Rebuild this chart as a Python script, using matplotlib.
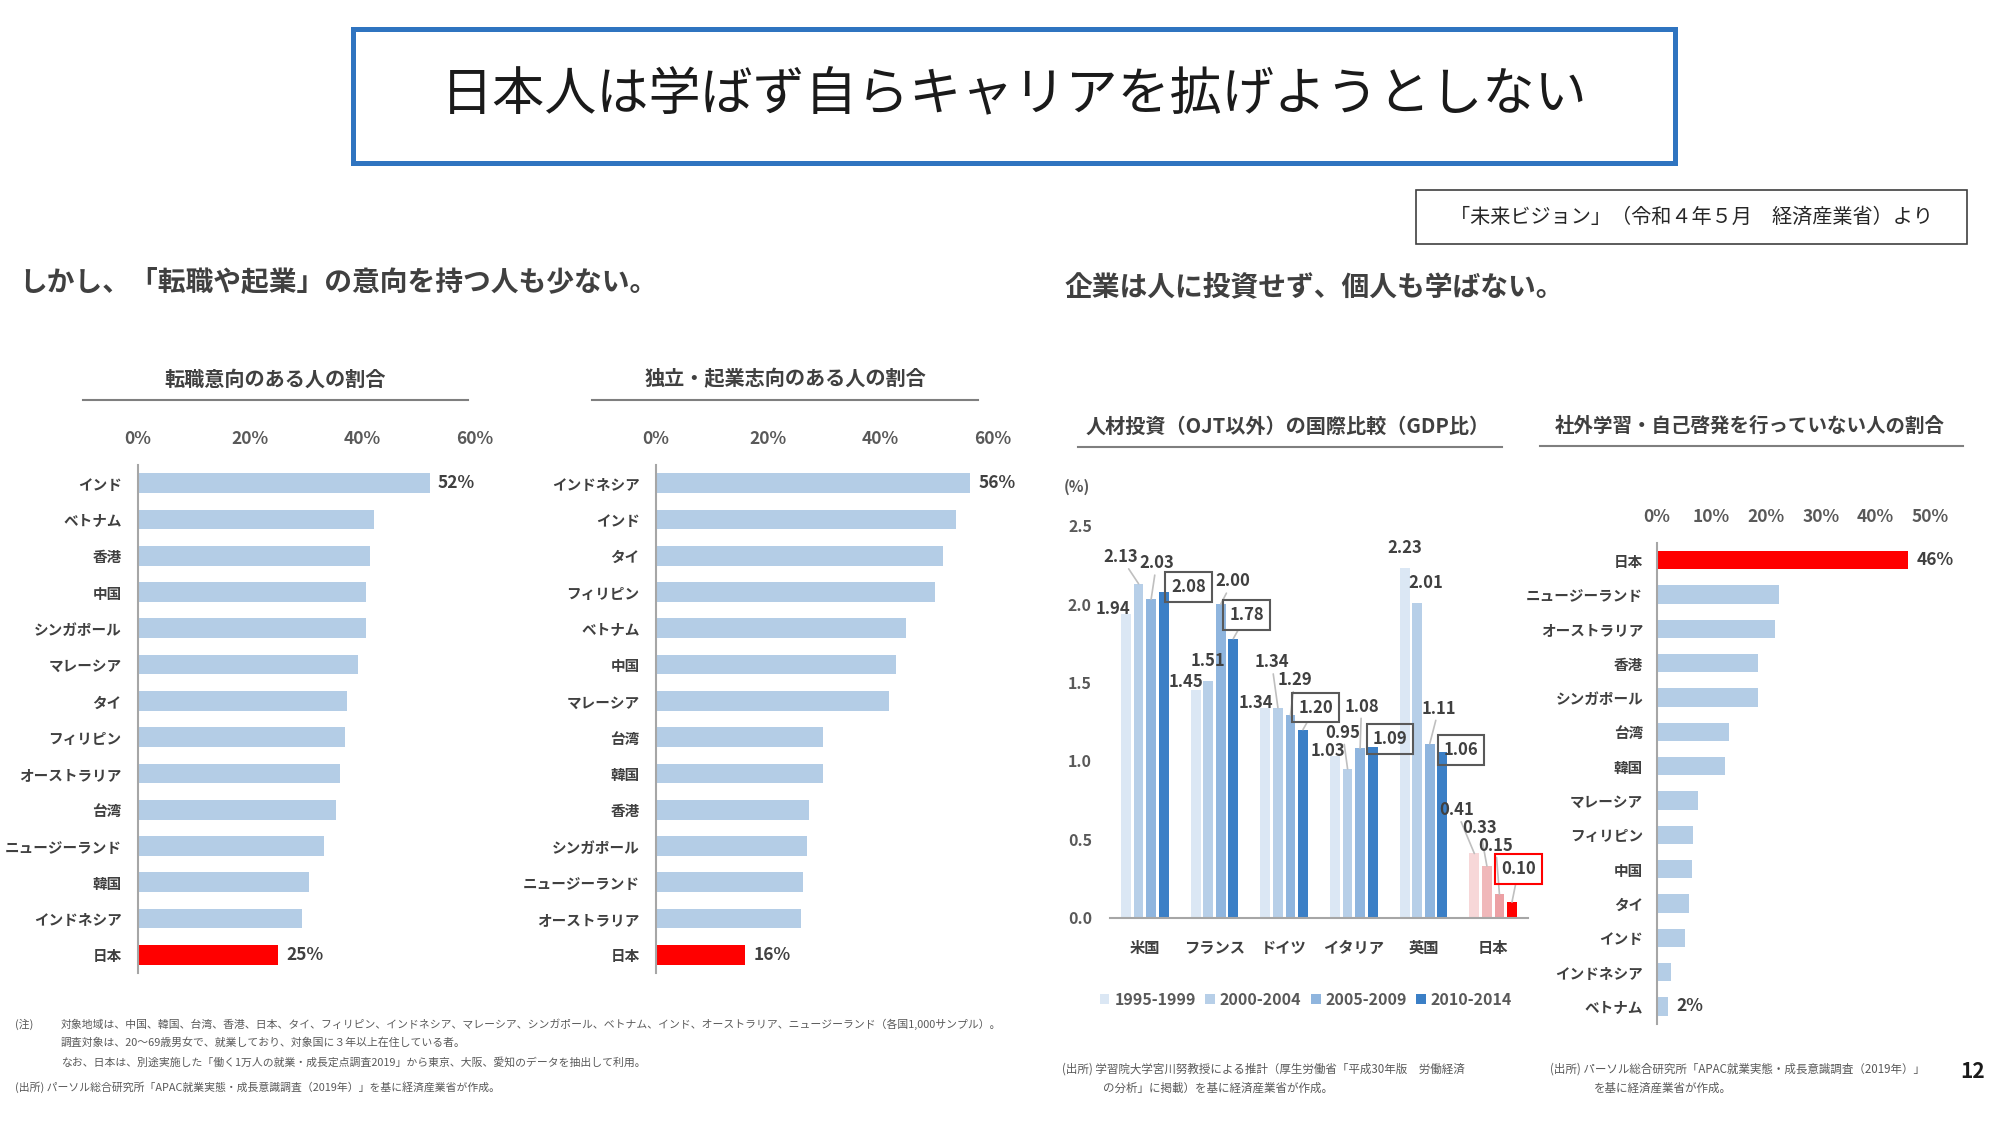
import matplotlib.pyplot as plt
from matplotlib.patches import Rectangle
from matplotlib.lines import Line2D
import numpy as np

plt.rcParams['font.family'] = ['Noto Sans CJK JP', 'DejaVu Sans']

W, H = 2000, 1133
BLUE = '#b4cde6'
RED = '#ff0000'
DARK = '#404040'
GRAY = '#595959'

# 転職意向のある人の割合 (%)
change_countries = ["インド", "ベトナム", "香港", "中国", "シンガポール", "マレーシア", "タイ",
                    "フィリピン", "オーストラリア", "台湾", "ニュージーランド", "韓国", "インドネシア", "日本"]
change_values = [52, 42.1, 41.4, 40.6, 40.6, 39.3, 37.3, 37.0, 36.1, 35.3, 33.1, 30.5, 29.3, 25]

# 独立・起業志向のある人の割合 (%)
startup_countries = ["インドネシア", "インド", "タイ", "フィリピン", "ベトナム", "中国", "マレーシア",
                     "台湾", "韓国", "香港", "シンガポール", "ニュージーランド", "オーストラリア", "日本"]
startup_values = [56, 53.5, 51.3, 49.8, 44.7, 42.9, 41.6, 29.9, 29.8, 27.3, 26.9, 26.3, 25.9, 16]

# 社外学習・自己啓発を行っていない人の割合 (%)
study_countries = ["日本", "ニュージーランド", "オーストラリア", "香港", "シンガポール", "台湾", "韓国",
                   "マレーシア", "フィリピン", "中国", "タイ", "インド", "インドネシア", "ベトナム"]
study_values = [46, 22.3, 21.7, 18.5, 18.5, 13.1, 12.5, 7.6, 6.6, 6.5, 5.9, 5.1, 2.5, 2]

# 人材投資（OJT以外）の国際比較（GDP比, %）
invest_countries = ["米国", "フランス", "ドイツ", "イタリア", "英国", "日本"]
invest_periods = ["1995-1999", "2000-2004", "2005-2009", "2010-2014"]
invest_1995 = [1.94, 1.45, 1.34, 1.03, 2.23, 0.41]
invest_2000 = [2.13, 1.51, 1.34, 0.95, 2.01, 0.33]
invest_2005 = [2.03, 2.00, 1.29, 1.08, 1.11, 0.15]
invest_2010 = [2.08, 1.78, 1.20, 1.09, 1.06, 0.10]

# label placement for the investment chart: (offset from group centre, height)
label_pos = [
    [(-0.455, 1.97), (-0.41, 1.506), (-0.40, 1.37), (-0.365, 1.065), (-0.27, 2.36), (-0.53, 0.687)],
    [(-0.344, 2.30), (-0.09, 1.636), (-0.18, 1.63), (-0.16, 1.18), (0.027, 2.135), (-0.19, 0.574)],
    [(0.168, 2.26), (0.258, 2.145), (0.15, 1.516), (0.11, 1.347), (0.22, 1.334), (0.036, 0.46)],
    [(0.627, 2.11), (0.46, 1.93), (0.45, 1.34), (0.515, 1.14), (0.54, 1.07), (0.366, 0.31)],
]
leader = [
    [0, 0, 0, 0, 0, 1],
    [1, 0, 1, 1, 0, 1],
    [1, 1, 1, 1, 1, 1],
    [0, 1, 1, 0, 0, 1],
]


def rect(x0, y0, x1, y1):
    return [x0 / W, 1 - y1 / H, (x1 - x0) / W, (y1 - y0) / H]


def ftext(x, y, s, **kw):
    fig.text(x / W, 1 - y / H, s, **kw)


def hline(x0, x1, y, color='#7f7f7f', lw=1.5):
    fig.add_artist(Line2D([x0 / W, x1 / W], [1 - y / H, 1 - y / H], color=color, lw=lw))


def hbar(box, names, values, xmax, step, ypad):
    ax = fig.add_axes(rect(*box))
    pos = np.arange(len(names))
    colors = [RED if n == "日本" else BLUE for n in names]
    ax.barh(pos, values, height=0.54, color=colors)
    ax.set_xlim(0, xmax)
    ax.set_ylim(len(names) - 0.5, -0.5)
    ax.set_yticks(pos, names)
    ticks = np.arange(0, xmax + 1, step)
    ax.set_xticks(ticks, [f"{t}%" for t in ticks])
    ax.xaxis.set_ticks_position('top')
    ax.tick_params(axis='x', length=0, pad=12, labelsize=12.5, labelcolor=GRAY)
    ax.tick_params(axis='y', length=0, pad=ypad, labelsize=10.5, labelcolor=DARK)
    for lbl in ax.get_xticklabels() + ax.get_yticklabels():
        lbl.set_fontweight('bold')
    for s in ['top', 'right', 'bottom']:
        ax.spines[s].set_visible(False)
    ax.spines['left'].set_color('#a6a6a6')
    ax.spines['left'].set_linewidth(1.5)
    ax.patch.set_alpha(0)
    for i in (0, len(names) - 1):
        ax.annotate(f"{values[i]:.0f}%", (values[i], i), xytext=(6, 0), textcoords='offset points',
                    va='center', ha='left', fontsize=12.5, fontweight='bold', color=DARK)
    return ax


fig = plt.figure(figsize=(20, 11.33), dpi=100)

# title box
fig.add_artist(Rectangle((353 / W, 1 - 163 / H), (1675 - 353) / W, (163 - 29) / H,
                         transform=fig.transFigure, fill=False, edgecolor='#2f74c0', lw=3.6))
ftext(1014, 96, "日本人は学ばず自らキャリアを拡げようとしない", ha='center', va='center',
      fontsize=37.5, color='#1a1a1a')

# source box
fig.add_artist(Rectangle((1416 / W, 1 - 244 / H), (1967 - 1416) / W, (244 - 190) / H,
                         transform=fig.transFigure, fill=False, edgecolor=DARK, lw=1.2))
ftext(1691, 217, "「未来ビジョン」（令和４年５月　経済産業省）より", ha='center', va='center',
      fontsize=14.5, color='#262626')

# section headings
ftext(19, 283, "しかし、「転職や起業」の意向を持つ人も少ない。", ha='left', va='center',
      fontsize=20, fontweight='bold', color=DARK)
ftext(1065, 287, "企業は人に投資せず、個人も学ばない。", ha='left', va='center',
      fontsize=20, fontweight='bold', color=DARK)

# chart titles
ftext(275, 379, "転職意向のある人の割合", ha='center', va='center', fontsize=14.5, fontweight='bold', color=DARK)
hline(83, 468, 400)
ftext(785, 379, "独立・起業志向のある人の割合", ha='center', va='center', fontsize=14.5, fontweight='bold', color=DARK)
hline(592, 978, 400)
ftext(1288, 426, "人材投資（OJT以外）の国際比較（GDP比）", ha='center', va='center', fontsize=14.5,
      fontweight='bold', color=DARK)
hline(1078, 1502, 447)
ftext(1750, 426, "社外学習・自己啓発を行っていない人の割合", ha='center', va='center', fontsize=14,
      fontweight='bold', color=DARK)
hline(1540, 1963, 446)

# horizontal bar charts
hbar((137.7, 465, 474.5, 973), change_countries, change_values, 60, 20, 11.5)
hbar((655.7, 465, 992.3, 973), startup_countries, startup_values, 60, 20, 11.5)
hbar((1657, 543, 1930, 1023.6), study_countries, study_values, 50, 10, 10)

# grouped bar chart
ax3 = fig.add_axes(rect(1110, 525.7, 1528, 917.8))
x = np.arange(len(invest_countries))
series = [invest_1995, invest_2000, invest_2005, invest_2010]
offsets = [-0.27, -0.09, 0.09, 0.27]
blues = ['#dbe7f4', '#b7cfe8', '#8fb5de', '#3b7fc6']
pinks = ['#f7d7d8', '#f0b8ba', '#eca0a4', RED]
for j, vals in enumerate(series):
    cols = [pinks[j] if c == "日本" else blues[j] for c in invest_countries]
    bars = ax3.bar(x + offsets[j], vals, width=0.14, color=cols, label=invest_periods[j])
    for i, v in enumerate(vals):
        dx, ty = label_pos[j][i]
        box = None
        if j == 3:
            ec = RED if invest_countries[i] == "日本" else GRAY
            box = dict(boxstyle='square,pad=0.35', fc='none', ec=ec, lw=1.5)
        arrow = dict(arrowstyle='-', color='#bfbfbf', lw=1.2, shrinkA=0, shrinkB=0) if leader[j][i] else None
        ax3.annotate(f"{v:.2f}", xy=(x[i] + offsets[j], v), xytext=(x[i] + dx, ty),
                     ha='center', va='center', fontsize=12, fontweight='bold', color=DARK,
                     bbox=box, arrowprops=arrow)

ax3.set_xlim(-0.5, len(invest_countries) - 0.5)
ax3.set_ylim(0, 2.5)
ax3.set_yticks(np.arange(0, 2.51, 0.5), [f"{t:.1f}" for t in np.arange(0, 2.51, 0.5)])
ax3.set_xticks(x, invest_countries)
ax3.tick_params(axis='y', length=0, pad=13, labelsize=11.5, labelcolor=GRAY)
ax3.tick_params(axis='x', length=0, pad=16, labelsize=11, labelcolor=DARK)
for lbl in ax3.get_xticklabels() + ax3.get_yticklabels():
    lbl.set_fontweight('bold')
for s in ['top', 'right', 'left']:
    ax3.spines[s].set_visible(False)
ax3.spines['bottom'].set_color('#a6a6a6')
ax3.spines['bottom'].set_linewidth(1.5)
ax3.patch.set_alpha(0)
ftext(1077, 487, "(%)", ha='center', va='center', fontsize=11, fontweight='bold', color=GRAY)

handles, labels = ax3.get_legend_handles_labels()
fig.legend(handles, labels, loc='center', bbox_to_anchor=(1306 / W, 1 - 1000 / H), ncol=4,
           frameon=False, handlelength=0.6, handleheight=0.6, handletextpad=0.3, columnspacing=0.6,
           prop={'size': 11.5, 'weight': 'bold'}, labelcolor=GRAY)

# notes
note_kw = dict(ha='left', va='center', fontsize=7.8, color=GRAY)
ftext(15, 1024, "(注)", **note_kw)
ftext(61, 1024, "対象地域は、中国、韓国、台湾、香港、日本、タイ、フィリピン、インドネシア、マレーシア、シンガポール、"
      "ベトナム、インド、オーストラリア、ニュージーランド（各国1,000サンプル）。", **note_kw)
ftext(61, 1043, "調査対象は、20～69歳男女で、就業しており、対象国に３年以上在住している者。", **note_kw)
ftext(61, 1062, "なお、日本は、別途実施した「働く1万人の就業・成長定点調査2019」から東京、大阪、愛知のデータを抽出して利用。",
      **note_kw)
ftext(15, 1087, "(出所) パーソル総合研究所「APAC就業実態・成長意識調査（2019年）」を基に経済産業省が作成。", **note_kw)

note_kw2 = dict(ha='left', va='center', fontsize=8.3, color=GRAY)
ftext(1062, 1069, "(出所) 学習院大学宮川努教授による推計（厚生労働省「平成30年版　労働経済", **note_kw2)
ftext(1103, 1088, "の分析」に掲載）を基に経済産業省が作成。", **note_kw2)
ftext(1550, 1069, "(出所) パーソル総合研究所「APAC就業実態・成長意識調査（2019年）」", **note_kw2)
ftext(1594, 1088, "を基に経済産業省が作成。", **note_kw2)

ftext(1973, 1071, "12", ha='center', va='center', fontsize=15, fontweight='bold', color='#1a1a1a')

fig.savefig("out.png", dpi=100, facecolor='white')
